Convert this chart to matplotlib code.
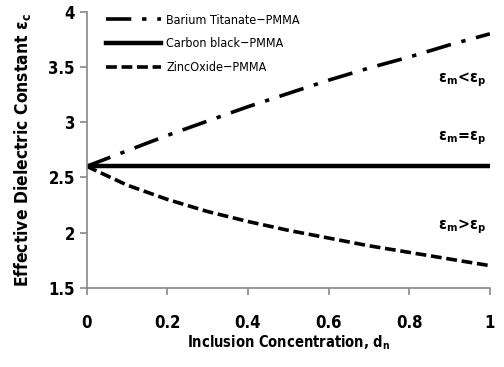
import matplotlib
matplotlib.use('Agg')
import matplotlib.pyplot as plt

# inclusion concentration
conc = [0.0, 0.1, 0.2, 0.3, 0.4, 0.5, 0.6, 0.7, 0.8, 0.9, 1.0]
barium = [2.6, 2.74, 2.88, 3.01, 3.14, 3.26, 3.38, 3.49, 3.59, 3.70, 3.80]
carbon = [2.6] * 11
zinc = [2.6, 2.43, 2.30, 2.19, 2.10, 2.02, 1.95, 1.88, 1.82, 1.76, 1.70]

labels = ['Barium Titanate\u2212PMMA', 'Carbon black\u2212PMMA', 'ZincOxide\u2212PMMA']

plt.rcParams['font.family'] = ['DejaVu Sans']
plt.rcParams['font.stretch'] = 'condensed'

fig = plt.figure(figsize=(5.04, 3.67), dpi=100)
ax = fig.add_axes([0.172, 0.216, 0.800, 0.752])

ax.plot(conc, barium, color='black', lw=2.6, dashes=(7, 3, 1.2, 3), label=labels[0])
ax.plot(conc, carbon, color='black', lw=3.2, label=labels[1])
ax.plot(conc, zinc, color='black', lw=2.6, dashes=(3, 1.3), label=labels[2])

ax.set_xlim(0, 1)
ax.set_ylim(1.5, 4)
ax.set_xticks([0, 0.2, 0.4, 0.6, 0.8, 1])
ax.set_xticklabels(['0', '0.2', '0.4', '0.6', '0.8', '1'])
ax.set_yticks([1.5, 2, 2.5, 3, 3.5, 4])
ax.set_yticklabels(['1.5', '2', '2.5', '3', '3.5', '4'])

for s in ('top', 'right'):
    ax.spines[s].set_visible(False)
for s in ('left', 'bottom'):
    ax.spines[s].set_color('#888888')
    ax.spines[s].set_linewidth(1.2)
ax.tick_params(colors='#888888', length=5, width=1.2, labelcolor='black', labelsize=12)
ax.tick_params(axis='x', pad=14)
for t in ax.get_xticklabels() + ax.get_yticklabels():
    t.set_fontweight('bold')

ax.set_xlabel('Inclusion Concentration, d$_\\mathregular{n}$', fontsize=10.5, fontweight='bold', labelpad=1)
ax.set_ylabel('Effective Dielectric Constant \u03b5$_\\mathregular{c}$', fontsize=12.5, fontweight='bold', labelpad=11)

ax.text(0.93, 3.38, '\u03b5$_\\mathregular{m}$<\u03b5$_\\mathregular{p}$', fontsize=11.5, fontweight='bold', ha='center', va='center')
ax.text(0.93, 2.85, '\u03b5$_\\mathregular{m}$=\u03b5$_\\mathregular{p}$', fontsize=11.5, fontweight='bold', ha='center', va='center')
ax.text(0.93, 2.05, '\u03b5$_\\mathregular{m}$>\u03b5$_\\mathregular{p}$', fontsize=11.5, fontweight='bold', ha='center', va='center')

ax.legend(loc='upper left', frameon=False, fontsize=9, handlelength=4.4,
          handletextpad=0.4, borderaxespad=0.2, labelspacing=0.85,
          bbox_to_anchor=(0.03, 1.02))

fig.savefig('out.png', dpi=100)
